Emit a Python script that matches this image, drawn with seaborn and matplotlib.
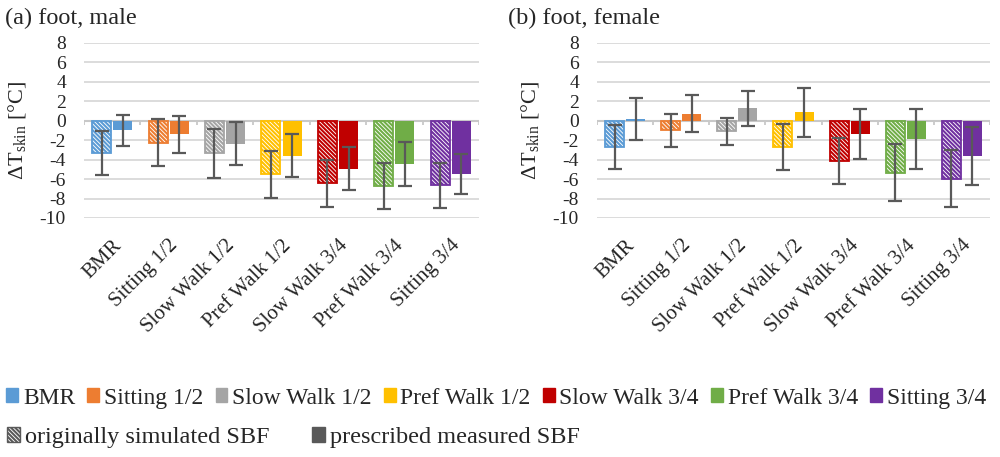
import pandas as pd
import seaborn as sns
import numpy as np
import matplotlib.pyplot as plt
from matplotlib.patches import Patch

CATEGORIES = ['BMR', 'Sitting 1/2', 'Slow Walk 1/2', 'Pref Walk 1/2',
              'Slow Walk 3/4', 'Pref Walk 3/4', 'Sitting 3/4']
COLORS = ['#5B9BD5', '#ED7D31', '#A5A5A5', '#FFC000', '#C00000', '#70AD47', '#7030A0']
SBF_TYPES = ['originally simulated SBF', 'prescribed measured SBF']

# (a) foot, male
male_sim = [-3.3, -2.25, -3.36, -5.5, -6.45, -6.7, -6.65]
male_sim_err = [2.25, 2.4, 2.5, 2.4, 2.45, 2.4, 2.3]
male_meas = [-1.0, -1.4, -2.37, -3.6, -4.95, -4.46, -5.47]
male_meas_err = [1.6, 1.9, 2.2, 2.2, 2.2, 2.23, 2.07]

# (b) foot, female
female_sim = [-2.7, -1.0, -1.1, -2.7, -4.17, -5.37, -5.97]
female_sim_err = [2.3, 1.65, 1.38, 2.4, 2.35, 2.93, 2.92]
female_meas = [0.15, 0.7, 1.3, 0.85, -1.37, -1.92, -3.63]
female_meas_err = [2.17, 1.9, 1.8, 2.47, 2.54, 3.08, 3.0]

YTICKS = [8, 6, 4, 2, 0, -2, -4, -6, -8, -10]

sns.set_style('white')
plt.rcParams['font.family'] = ['Liberation Serif', 'DejaVu Serif']
plt.rcParams['mathtext.fontset'] = 'custom'
plt.rcParams['mathtext.rm'] = 'Liberation Serif'
plt.rcParams['hatch.linewidth'] = 1.5

GRID = '#D9D9D9'
ERR = '#595959'
HATCH = '\\' * 8


def build_df(sim, meas):
    return pd.DataFrame({
        'activity': CATEGORIES * 2,
        'sbf': [SBF_TYPES[0]] * len(CATEGORIES) + [SBF_TYPES[1]] * len(CATEGORIES),
        'dT': list(sim) + list(meas),
    })


def foot_panel(ax, sim, sim_err, meas, meas_err, title, title_x):
    df = build_df(sim, meas)
    sns.barplot(data=df, x='activity', y='dT', hue='sbf', order=CATEGORIES,
                hue_order=SBF_TYPES, errorbar=None, width=0.75, gap=0.1,
                legend=False, ax=ax, zorder=3)

    # colour the bars per activity, hatch the simulated ones
    for k, (cont, vals, errs) in enumerate(zip(ax.containers, [sim, meas], [sim_err, meas_err])):
        xs = []
        for bar, col in zip(cont.patches, COLORS):
            if k == 0:
                bar.set_facecolor('white')
                bar.set_edgecolor(col)
                bar.set_hatch(HATCH)
                bar.set_linewidth(1.3)
            else:
                bar.set_facecolor(col)
                bar.set_edgecolor(col)
                bar.set_linewidth(0)
            xs.append(bar.get_x() + bar.get_width() / 2)
        ax.errorbar(xs, vals, yerr=errs, fmt='none', ecolor=ERR, elinewidth=1.6,
                    capsize=5, capthick=1.6, zorder=5)

    ax.set_ylim(-10, 8)
    ax.set_xlim(-0.5, len(CATEGORIES) - 0.5)
    ax.set_yticks(YTICKS)
    ax.set_yticklabels([str(t) for t in YTICKS], fontsize=14)
    ax.yaxis.grid(True, color=GRID, linewidth=1.3, zorder=0)
    ax.set_axisbelow(True)
    ax.axhline(0, color='#C8C8C8', linewidth=1.5, zorder=2)
    bounds = np.arange(len(CATEGORIES) + 1) - 0.5
    ax.vlines(bounds, -0.45, 0, color='#C8C8C8', linewidth=1.3, zorder=2)
    sns.despine(ax=ax, left=True, bottom=True)
    ax.tick_params(axis='y', length=0, pad=13)
    ax.tick_params(axis='x', length=0, pad=13)
    ax.set_xticks(range(len(CATEGORIES)))
    ax.set_xticklabels(CATEGORIES, rotation=45, ha='right', va='top',
                       rotation_mode='anchor', fontsize=15)
    ax.set_xlabel('')
    ax.set_ylabel(r'$\Delta$T$_{\mathrm{skin}}$ [°C]', fontsize=16)
    ax.yaxis.set_label_coords(-0.14, 0.5)
    ax.set_title(title, loc='left', fontsize=17.5, x=title_x, y=1.06)


fig = plt.figure(figsize=(10, 4.57), dpi=100)
ax1 = fig.add_axes([0.084, 0.523, 0.395, 0.383])
ax2 = fig.add_axes([0.597, 0.523, 0.393, 0.383])
foot_panel(ax1, male_sim, male_sim_err, male_meas, male_meas_err, '(a) foot, male', -0.2)
foot_panel(ax2, female_sim, female_sim_err, female_meas, female_meas_err, '(b) foot, female', -0.226)

act_handles = [Patch(facecolor=c, edgecolor=c) for c in COLORS]
leg1 = fig.legend(act_handles, CATEGORIES, loc='center left', bbox_to_anchor=(-0.003, 0.129),
                  ncol=7, frameon=False, fontsize=17, handlelength=0.5, handleheight=0.55,
                  handletextpad=0.2, columnspacing=0.52, borderaxespad=0)
sbf_handles = [Patch(facecolor='white', edgecolor=ERR, hatch=HATCH),
               Patch(facecolor=ERR, edgecolor=ERR)]
leg2 = fig.legend(sbf_handles, SBF_TYPES, loc='center left', bbox_to_anchor=(-0.003, 0.042),
                  ncol=2, frameon=False, fontsize=17.5, handlelength=0.55, handleheight=0.55,
                  handletextpad=0.2, columnspacing=1.75, borderaxespad=0)

plt.savefig('out.png', dpi=100)
